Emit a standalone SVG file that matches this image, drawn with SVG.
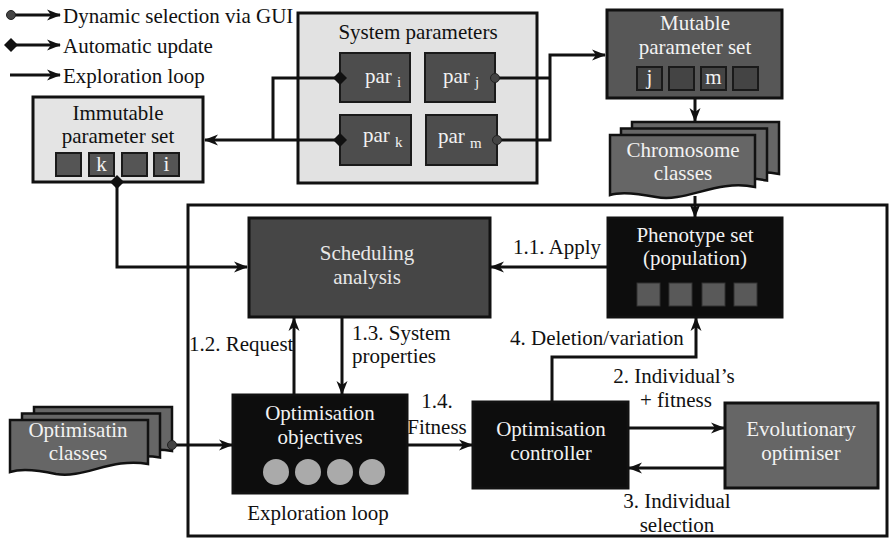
<svg xmlns="http://www.w3.org/2000/svg" width="892" height="540" viewBox="0 0 892 540" font-family="'Liberation Serif', 'DejaVu Serif', serif">
<defs>
<style>
text{font-family:'Liberation Serif','DejaVu Serif',serif;font-size:21px;fill:#111}
.w{fill:#f2f2f2}
.lg{fill:#e8e8e8}
.c{text-anchor:middle}
.sub{font-size:15px}
.box{stroke:#111;stroke-width:3}
.sq{stroke:#1a1a1a;stroke-width:2}
.ln{fill:none;stroke:#111;stroke-width:3}
.doc{fill:#666;stroke:#111;stroke-width:2.5}
</style>
<marker id="arr" viewBox="0 0 14 12" refX="13" refY="6" markerWidth="14" markerHeight="12" markerUnits="userSpaceOnUse" orient="auto">
<path d="M0,0.5 L14,6 L0,11.5 L4,6 Z" fill="#111"/>
</marker>
<marker id="dia" viewBox="0 0 14 14" refX="7" refY="7" markerWidth="14" markerHeight="14" markerUnits="userSpaceOnUse" orient="auto">
<path d="M7,0 L14,7 L7,14 L0,7 Z" fill="#111"/>
</marker>
<marker id="dot" viewBox="0 0 12 12" refX="6" refY="6" markerWidth="12" markerHeight="12" markerUnits="userSpaceOnUse" orient="auto">
<circle cx="6" cy="6" r="4.5" fill="#444" stroke="#222" stroke-width="1"/>
</marker>
</defs>
<rect width="892" height="540" fill="#fff"/>

<g id="legend">
<path class="ln" d="M11,15 H60" marker-start="url(#dot)" marker-end="url(#arr)"/>
<text x="63" y="23">Dynamic selection via GUI</text>
<path class="ln" d="M11,45 H60" marker-start="url(#dia)" marker-end="url(#arr)"/>
<text x="63" y="53">Automatic update</text>
<path class="ln" d="M10,75 H60" marker-end="url(#arr)"/>
<text x="63" y="83">Exploration loop</text>
</g>

<g id="exploration-loop">
<rect x="188" y="205" width="699" height="331" fill="none" stroke="#111" stroke-width="3"/>
<text class="c" x="318" y="520">Exploration loop</text>
</g>

<g id="immutable">
<rect class="box" x="33" y="97" width="170" height="85" fill="#e4e4e4"/>
<text class="c" x="118" y="120">Immutable</text>
<text class="c" x="118" y="143">parameter set</text>
<rect class="sq" x="56" y="153" width="25" height="23" fill="#555"/>
<rect class="sq" x="89" y="153" width="25" height="23" fill="#555"/>
<rect class="sq" x="122" y="153" width="25" height="23" fill="#555"/>
<rect class="sq" x="154" y="153" width="25" height="23" fill="#555"/>
<text class="c w" x="101.5" y="171">k</text>
<text class="c w" x="166.5" y="171">i</text>
</g>

<g id="system-parameters">
<rect class="box" x="298" y="13" width="239" height="170" fill="#e2e2e2"/>
<text class="c" x="418" y="39">System parameters</text>
</g>
<g id="par-i">
<rect class="sq" x="340" y="53" width="70" height="49" fill="#4d4d4d"/>
<text class="w" x="365" y="83">par <tspan class="sub" dy="4">i</tspan></text>
</g>
<g id="par-j">
<rect class="sq" x="425" y="53" width="70" height="49" fill="#4d4d4d"/>
<text class="w" x="443" y="83">par <tspan class="sub" dy="4">j</tspan></text>
</g>
<g id="par-k">
<rect class="sq" x="340" y="115" width="71" height="50" fill="#4d4d4d"/>
<text class="w" x="363" y="142">par <tspan class="sub" dy="5">k</tspan></text>
</g>
<g id="par-m">
<rect class="sq" x="426" y="115" width="71" height="50" fill="#4d4d4d"/>
<text class="w" x="438" y="143">par <tspan class="sub" dy="5">m</tspan></text>
</g>

<g id="mutable">
<rect class="box" x="607" y="10" width="175" height="88" fill="#575757"/>
<text class="c w" x="695" y="30">Mutable</text>
<text class="c w" x="695" y="54">parameter set</text>
<rect class="sq" x="637" y="67" width="25" height="23" fill="#444"/>
<rect class="sq" x="669" y="67" width="25" height="23" fill="#444"/>
<rect class="sq" x="701" y="67" width="25" height="23" fill="#444"/>
<rect class="sq" x="733" y="67" width="25" height="23" fill="#444"/>
<text class="c w" x="649.5" y="84">j</text>
<text class="c w" x="713.5" y="84">m</text>
</g>

<g id="chromosome">
<path class="doc" d="M632,122 H779 V174 C740,166 710,190 680,184 C665,181 645,178 632,182 Z"/>
<path class="doc" d="M621,128.5 H767 V180.5 C728,172.5 698,196.5 668,190.5 C653,187.5 634,184.5 621,188.5 Z"/>
<path class="doc" d="M610,135 H755 V187 C716,179 686,203 656,197 C641,194 622,191 610,195 Z"/>
<text class="c w" x="683" y="157">Chromosome</text>
<text class="c w" x="683" y="180">classes</text>
</g>

<g id="phenotype">
<rect class="box" x="608" y="218" width="174" height="99" fill="#0d0d0d"/>
<text class="c w" x="695" y="242">Phenotype set</text>
<text class="c w" x="695" y="265">(population)</text>
<rect x="637" y="283" width="23" height="23" fill="#595959" stroke="#333"/>
<rect x="669" y="283" width="23" height="23" fill="#595959" stroke="#333"/>
<rect x="702" y="283" width="23" height="23" fill="#595959" stroke="#333"/>
<rect x="734" y="283" width="23" height="23" fill="#595959" stroke="#333"/>
</g>

<g id="scheduling">
<rect class="box" x="249" y="218" width="241" height="99" fill="#464646"/>
<text class="c lg" x="367" y="260">Scheduling</text>
<text class="c lg" x="367" y="284">analysis</text>
</g>

<g id="objectives">
<rect class="box" x="233" y="395" width="174" height="98" fill="#0d0d0d"/>
<text class="c w" x="320" y="420">Optimisation</text>
<text class="c w" x="320" y="444">objectives</text>
<circle cx="276" cy="472" r="13" fill="#aaa"/>
<circle cx="308" cy="472" r="13" fill="#aaa"/>
<circle cx="340" cy="472" r="13" fill="#aaa"/>
<circle cx="372" cy="472" r="13" fill="#aaa"/>
</g>

<g id="optimisatin-classes">
<path class="doc" d="M34,407 H172 V451 C136,444 108,466 80,461 C66,458 47,455 34,459 Z"/>
<path class="doc" d="M22,413.5 H160 V457.5 C124,450.5 96,472.5 68,467.5 C54,464.5 35,461.5 22,465.5 Z"/>
<path class="doc" d="M10,420 H148 V464 C112,457 84,479 56,474 C42,471 23,468 10,472 Z"/>
<text class="c w" x="78" y="437">Optimisatin</text>
<text class="c w" x="78" y="460">classes</text>
</g>

<g id="controller">
<rect class="box" x="473" y="402" width="155" height="86" fill="#0d0d0d"/>
<text class="c w" x="551" y="436">Optimisation</text>
<text class="c w" x="551" y="460">controller</text>
</g>

<g id="evolutionary">
<rect class="box" x="725" y="403" width="153" height="85" fill="#666"/>
<text class="c w" x="801" y="436">Evolutionary</text>
<text class="c w" x="801" y="460">optimiser</text>
</g>

<g id="connectors">
<path class="ln" d="M340,78 H273 V140"/>
<path class="ln" d="M340,140 H205" marker-start="url(#dia)" marker-end="url(#arr)"/>
<path class="ln" d="M340,78 H339" marker-start="url(#dia)"/>
<path class="ln" d="M495,78 H550" marker-start="url(#dot)"/>
<path class="ln" d="M497,140 H550 V55 H605" marker-start="url(#dot)" marker-end="url(#arr)"/>
<path class="ln" d="M695,98 V121" marker-end="url(#arr)"/>
<path class="ln" d="M695,196 V217" marker-end="url(#arr)"/>
<path class="ln" d="M117,182 V267 H247" marker-start="url(#dia)" marker-end="url(#arr)"/>
<path class="ln" d="M608,267 H491" marker-end="url(#arr)"/>
<text x="513" y="254">1.1. Apply</text>
<path class="ln" d="M294,395 V318" marker-end="url(#arr)"/>
<text x="189" y="351">1.2. Request</text>
<path class="ln" d="M342,318 V394" marker-end="url(#arr)"/>
<text x="352" y="340">1.3. System</text>
<text x="352" y="363">properties</text>
<path class="ln" d="M552,402 V357 H696 V318" marker-end="url(#arr)"/>
<text x="510" y="345">4. Deletion/variation</text>
<path class="ln" d="M172,445 H232" marker-start="url(#dot)" marker-end="url(#arr)"/>
<path class="ln" d="M407,445 H472" marker-end="url(#arr)"/>
<text class="c" x="437" y="408">1.4.</text>
<text class="c" x="437" y="434">Fitness</text>
<path class="ln" d="M628,428 H724" marker-end="url(#arr)"/>
<text class="c" x="674" y="383">2. Individual’s</text>
<text class="c" x="676" y="407">+ fitness</text>
<path class="ln" d="M725,468 H629" marker-end="url(#arr)"/>
<text class="c" x="677" y="508">3. Individual</text>
<text class="c" x="677" y="532">selection</text>
</g>
</svg>
